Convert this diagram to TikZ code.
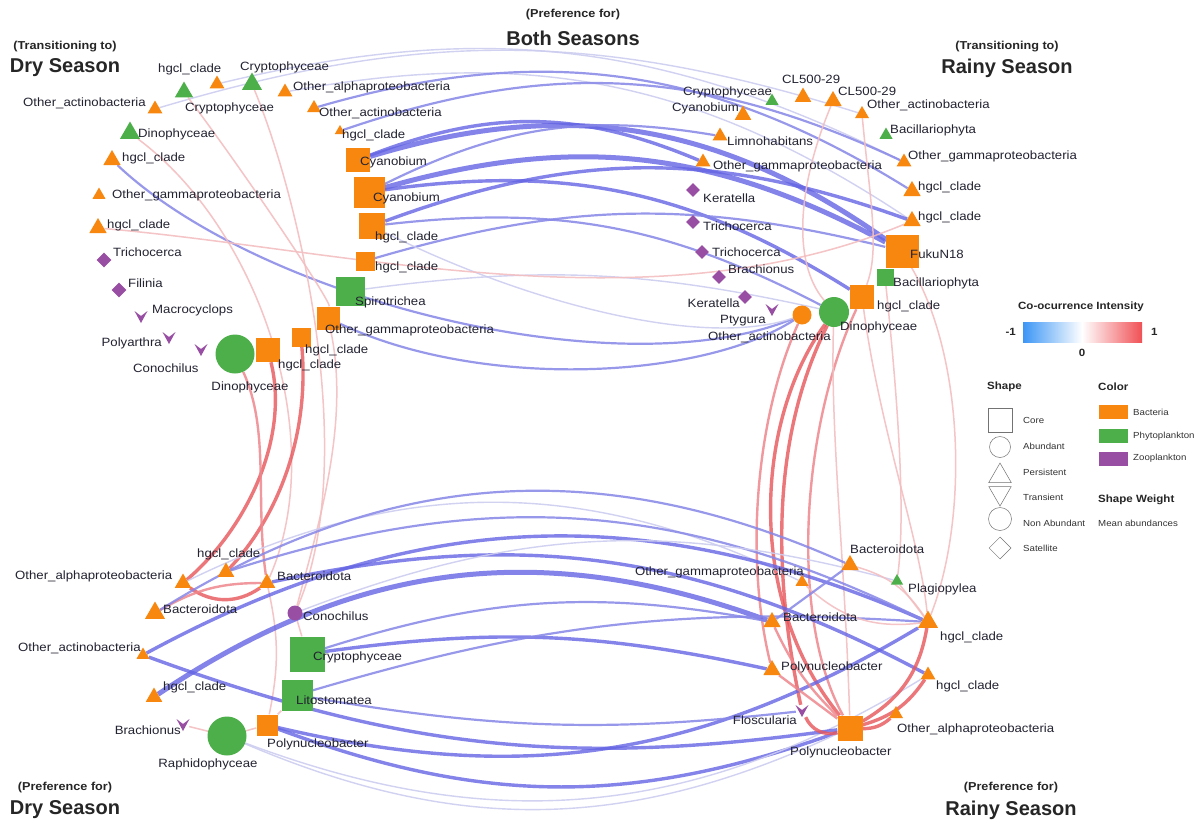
\documentclass[tikz,border=0pt]{standalone}
\usepackage{fontspec}
\setmainfont{Liberation Sans}
\newfontfamily\lblfont{Liberation Sans}[FakeStretch=1.1]
\usetikzlibrary{shapes.geometric,backgrounds}
\definecolor{bac}{HTML}{F7870F}
\definecolor{phy}{HTML}{4DAF4A}
\definecolor{zoo}{HTML}{984EA3}
\definecolor{negS}{RGB}{100,100,228}
\definecolor{negM}{RGB}{135,135,232}
\definecolor{negL}{RGB}{205,205,240}
\definecolor{posS}{RGB}{232,85,90}
\definecolor{posM}{RGB}{238,135,140}
\definecolor{posL}{RGB}{243,190,192}
\definecolor{txt}{RGB}{35,35,50}
\definecolor{legblue}{RGB}{60,150,245}
\definecolor{legred}{RGB}{240,80,85}
\tikzset{
  lbl/.style={font=\lblfont\fontsize{12}{13}\selectfont, text=txt, inner sep=0pt},
  ttl/.style={font=\fontsize{20}{22}\selectfont\bfseries, text=black!85, inner sep=0pt},
  sub/.style={font=\lblfont\fontsize{11.5}{13}\selectfont\bfseries, text=black!85, inner sep=0pt},
  legt/.style={font=\lblfont\fontsize{10.5}{12}\selectfont\bfseries, text=black!85, inner sep=0pt},
  legs/.style={font=\lblfont\fontsize{8.8}{10}\selectfont, text=black!80, inner sep=0pt},
  tri/.style={regular polygon, regular polygon sides=3, inner sep=0pt, minimum size=#1},
  sqr/.style={rectangle, inner sep=0pt, minimum size=#1},
  cir/.style={circle, inner sep=0pt, minimum size=#1},
  dia/.style={diamond, inner sep=0pt, minimum size=#1, fill=zoo},
  vnode/.style={inner sep=0pt, minimum size=12},
  B/.style={fill=bac}, G/.style={fill=phy},
  n1/.style={draw=negL, line width=1.4, opacity=0.9},
  n2/.style={draw=negM, line width=2.2, opacity=0.85},
  n3/.style={draw=negS, line width=3.4, opacity=0.8},
  n4/.style={draw=negS, line width=5, opacity=0.8},
  p1/.style={draw=posL, line width=1.5, opacity=0.9},
  p2/.style={draw=posM, line width=2.4, opacity=0.85},
  p3/.style={draw=posS, line width=3.4, opacity=0.8},
  lg/.style={draw=black!55, line width=0.5, fill=white},
}
\newcommand\vmark[3]{\node[vnode] (#1) at (#2,#3) {};
  \fill[zoo] (#2-6.5,#3-6) -- (#2,#3+6) -- (#2+6.5,#3-6) -- (#2,#3-1) -- cycle;}
\begin{document}
\begin{tikzpicture}[x=1pt,y=-1pt]
\begin{pgfonlayer}{background}
\fill[white] (0,0) rectangle (1201,830);
\end{pgfonlayer}
\useasboundingbox (0,0) rectangle (1201,830);

% ---------- titles ----------
\node[sub] (t1a) at (65,47) {(Transitioning to)};
\node[ttl] (t1b) at (65,68) {Dry Season};
\node[sub] (t2a) at (573,15) {(Preference for)};
\node[ttl] (t2b) at (573,38) {Both Seasons};
\node[sub] (t3a) at (1007,47) {(Transitioning to)};
\node[ttl] (t3b) at (1007,68) {Rainy Season};
\node[sub] (t4a) at (65,788) {(Preference for)};
\node[ttl] (t4b) at (65,810) {Dry Season};
\node[sub] (t5a) at (1011,788) {(Preference for)};
\node[ttl] (t5b) at (1011,810) {Rainy Season};

% ---------- top-left nodes ----------
\node[tri=17,B] (a1) at (155,109) {};
\node[tri=21,G] (a2) at (184,92) {};
\node[tri=17,B] (a3) at (217,84) {};
\node[tri=23,G] (a4) at (252,84) {};
\node[tri=17,B] (a5) at (285,92) {};
\node[tri=16,B] (a6) at (314,108) {};
\node[tri=12,B] (a7) at (340,131) {};
\node[tri=23,G] (a8) at (130,133) {};
\node[tri=20,B] (a9) at (112,160) {};
\node[tri=15,B] (a10) at (99,195) {};
\node[tri=20,B] (a11) at (98,228) {};
\node[dia=15] (a12) at (104,260) {};
\node[dia=15] (a13) at (119,290) {};
\vmark{a14}{141}{317}
\vmark{a15}{169}{338}
\vmark{a16}{201}{350}
\node[cir=39,G] (a17) at (235,354) {};
\node[sqr=24,B] (a18) at (268,350) {};
\node[sqr=19,B] (a19) at (301,337) {};
\node[sqr=23,B] (a20) at (328,318) {};
\node[sqr=29,G] (a21) at (350,291) {};
\node[sqr=19,B] (a22) at (365,261) {};
\node[sqr=26,B] (a23) at (372,226) {};
\node[sqr=31,B] (a24) at (369,192) {};
\node[sqr=24,B] (a25) at (358,160) {};

% ---------- top-right nodes ----------
\node[tri=15,G] (b1) at (772,101) {};
\node[tri=19,B] (b2) at (803,97) {};
\node[tri=20,B] (b3) at (833,101) {};
\node[tri=16,B] (b4) at (862,114) {};
\node[tri=19,B] (b5) at (743,115) {};
\node[tri=17,B] (b6) at (720,136) {};
\node[tri=15,G] (b7) at (886,135) {};
\node[tri=17,B] (b8) at (703,162) {};
\node[tri=17,B] (b9) at (904,162) {};
\node[dia=14] (b10) at (693,190) {};
\node[tri=20,B] (b11) at (912,191) {};
\node[dia=14] (b12) at (693,222) {};
\node[tri=20,B] (b13) at (912,221) {};
\node[dia=14] (b14) at (702,252) {};
\node[sqr=33,B] (b15) at (902,251) {};
\node[dia=14] (b16) at (719,277) {};
\node[sqr=17,G] (b17) at (885,277) {};
\node[dia=14] (b18) at (745,297) {};
\vmark{b19}{772}{310}
\node[cir=19,B] (b20) at (802,315) {};
\node[cir=30,G] (b21) at (834,312) {};
\node[sqr=24,B] (b22) at (862,297) {};

% ---------- bottom-left nodes ----------
\node[tri=19,B] (c1) at (226,572) {};
\node[tri=19,B] (c2) at (183,583) {};
\node[tri=19,B] (c3) at (267,583) {};
\node[tri=23,B] (c4) at (155,613) {};
\node[cir=15,fill=zoo] (c5) at (295,613) {};
\node[tri=15,B] (c6) at (143,655) {};
\node[sqr=35,G] (c7) at (307,654) {};
\node[tri=19,B] (c8) at (154,697) {};
\node[sqr=31,G] (c9) at (297,695) {};
\vmark{c10}{183}{725}
\node[cir=39,G] (c11) at (227,736) {};
\node[sqr=21,B] (c12) at (267,725) {};

% ---------- bottom-right nodes ----------
\node[tri=20,B] (d1) at (850,565) {};
\node[tri=15,B] (d2) at (802,582) {};
\node[tri=14,G] (d3) at (897,581) {};
\node[tri=20,B] (d4) at (772,622) {};
\node[tri=23,B] (d5) at (928,622) {};
\node[tri=20,B] (d6) at (772,670) {};
\node[tri=17,B] (d7) at (928,675) {};
\vmark{d8}{802}{711}
\node[sqr=25,B] (d9) at (850,728) {};
\node[tri=16,B] (d10) at (896,714) {};

% ---------- edges ----------
\begin{pgfonlayer}{background}
% top arcs
\draw[n1] (a5) to[bend left=22] (b13);
\draw[n1] (a3) to[bend left=20] (b9);
\draw[n1] (a1) to[bend left=17] (b4);
\draw[n2] (a6) to[bend left=24] (b11);
\draw[n2] (a7) to[bend left=22] (b9);
\draw[n4] (a25) to[bend left=26] (b15);
\draw[n3] (a25) to[bend left=22] (b8);
\draw[n4] (a24) to[bend left=22] (b15);
\draw[n3] (a24) to[bend left=20] (b22);
\draw[n2] (a24) to[bend left=18] (b6);
\draw[n3] (a23) to[bend left=20] (b13);
\draw[n2] (a23) to[bend left=17] (b21);
\draw[n2] (a22) to[bend left=15] (b15);
\draw[n1] (a21) to[bend left=10] (b21);
\draw[n2] (a20) .. controls (480,390) and (700,380) .. (b20);
\draw[n2] (a9) .. controls (260,300) and (620,390) .. (b20);
\draw[n1] (a23) .. controls (520,300) and (700,350) .. (b20);
% top pink
\draw[p1] (a11) .. controls (350,250) and (650,330) .. (b13);
\draw[p1] (b3) .. controls (800,180) and (790,260) .. (b21);
\draw[p1] (b4) .. controls (870,200) and (880,250) .. (b22);
\draw[p1] (a2) .. controls (250,180) and (330,300) .. (a20);
% left middle red arcs
\draw[p1] (a8) .. controls (260,230) and (330,440) .. (c3);
\draw[p1] (a4) .. controls (300,200) and (360,460) .. (c5);
\draw[p3] (a18) .. controls (290,440) and (245,530) .. (c2);
\draw[p3] (a19) .. controls (310,440) and (275,520) .. (c1);
\draw[p2] (a17) .. controls (270,430) and (255,500) .. (c3);
\draw[p1] (a20) .. controls (350,420) and (320,520) .. (c5);
% bottom-left internal
\draw[p3] (c2) to[bend right=35] (c3);
\draw[p2] (c4) to[bend left=15] (c3);
\draw[p1] (c3) to[bend left=12] (c12);
\draw[p1] (c5) -- (c7);
\draw[p1] (c10) -- (c11);
\draw[p1] (c11) -- (c12);
\draw[p1] (c12) -- (c9);
% right middle red arcs
\draw[p3] (b21) .. controls (755,420) and (745,600) .. (d9);
\draw[p3] (b21) .. controls (775,430) and (770,560) .. (d8);
\draw[p2] (b20) .. controls (755,420) and (745,560) .. (d6);
\draw[p2] (b22) .. controls (800,430) and (790,620) .. (d9);
\draw[p1] (b21) .. controls (830,430) and (845,560) .. (d9);
\draw[p1] (b15) .. controls (965,360) and (968,520) .. (d5);
\draw[p1] (b17) .. controls (900,420) and (905,520) .. (d3);
\draw[p1] (b22) .. controls (880,430) and (920,540) .. (d5);
% bottom arcs
\draw[n1] (c2) to[bend left=26] (d2);
\draw[n2] (c4) to[bend left=28] (d1);
\draw[n4] (c8) to[bend left=27] (d4);
\draw[n3] (c6) to[bend left=26] (d5);
\draw[n2] (c1) to[bend left=22] (d5);
\draw[n3] (c3) to[bend left=20] (d7);
\draw[n2] (c7) to[bend left=14] (d4);
\draw[n3] (c7) to[bend left=10] (d6);
\draw[n2] (c9) to[bend left=10] (d5);
\draw[n1] (c5) to[bend left=18] (d3);
\draw[n3] (c12) to[bend right=20] (d9);
\draw[n3] (c12) to[bend right=22] (d5);
\draw[n1] (c11) to[bend right=24] (d9);
\draw[n1] (c11) to[bend right=26] (d7);
\draw[n2] (c9) to[bend right=8] (d8);
\draw[n3] (c6) to[bend right=14] (d9);
% bottom-right internal
\draw[p3] (d5) to[bend left=25] (d9);
\draw[p3] (d7) to[bend left=20] (d9);
\draw[p3] (d10) to[bend left=20] (d9);
\draw[p3] (d8) to[bend right=40] (d9);
\draw[p2] (d6) -- (d9);
\draw[p2] (d4) to[bend right=10] (d9);
\draw[p1] (d1) to[bend left=20] (d5);
\draw[p1] (d3) -- (d5);
\draw[p1] (d2) to[bend right=25] (d5);
\draw[n2] (d4) -- (d1);
\end{pgfonlayer}

% ---------- labels top-left ----------
\node[lbl,anchor=west] (la2) at (158,69) {hgcl\_clade};
\node[lbl,anchor=west] (la4) at (240,67) {Cryptophyceae};
\node[lbl,anchor=west] (la1) at (23,103) {Other\_actinobacteria};
\node[lbl,anchor=west] (la2b) at (185,108) {Cryptophyceae};
\node[lbl,anchor=west] (la5) at (293,87) {Other\_alphaproteobacteria};
\node[lbl,anchor=west] (la6) at (319,113) {Other\_actinobacteria};
\node[lbl,anchor=west] (la7) at (342,135) {hgcl\_clade};
\node[lbl,anchor=west] (la8) at (138,134) {Dinophyceae};
\node[lbl,anchor=west] (la9) at (122,158) {hgcl\_clade};
\node[lbl,anchor=west] (la10) at (112,195) {Other\_gammaproteobacteria};
\node[lbl,anchor=west] (la11) at (107,225) {hgcl\_clade};
\node[lbl,anchor=west] (la12) at (113,252) {Trichocerca};
\node[lbl,anchor=west] (la13) at (128,283) {Filinia};
\node[lbl,anchor=west] (la14) at (152,310) {Macrocyclops};
\node[lbl,anchor=east] (la15) at (162,343) {Polyarthra};
\node[lbl,anchor=west] (la16) at (133,368) {Conochilus};
\node[lbl] (la17) at (250,387) {Dinophyceae};
\node[lbl,anchor=west] (la18) at (278,365) {hgcl\_clade};
\node[lbl,anchor=west] (la19) at (305,350) {hgcl\_clade};
\node[lbl,anchor=west] (la20) at (325,330) {Other\_gammaproteobacteria};
\node[lbl,anchor=west] (la21) at (355,302) {Spirotrichea};
\node[lbl,anchor=west] (la22) at (375,267) {hgcl\_clade};
\node[lbl,anchor=west] (la23) at (375,237) {hgcl\_clade};
\node[lbl,anchor=west] (la24) at (373,198) {Cyanobium};
\node[lbl,anchor=west] (la25) at (360,162) {Cyanobium};

% ---------- labels top-right ----------
\node[lbl,anchor=west] (lb1) at (683,92) {Cryptophyceae};
\node[lbl,anchor=west] (lb2) at (782,79) {CL500-29};
\node[lbl,anchor=west] (lb3) at (838,91) {CL500-29};
\node[lbl,anchor=west] (lb4) at (867,105) {Other\_actinobacteria};
\node[lbl,anchor=west] (lb5) at (672,108) {Cyanobium};
\node[lbl,anchor=west] (lb6) at (727,141) {Limnohabitans};
\node[lbl,anchor=west] (lb7) at (890,130) {Bacillariophyta};
\node[lbl,anchor=west] (lb8) at (713,166) {Other\_gammaproteobacteria};
\node[lbl,anchor=west] (lb9) at (908,156) {Other\_gammaproteobacteria};
\node[lbl,anchor=west] (lb10) at (703,198) {Keratella};
\node[lbl,anchor=west] (lb11) at (918,187) {hgcl\_clade};
\node[lbl,anchor=west] (lb12) at (703,226) {Trichocerca};
\node[lbl,anchor=west] (lb13) at (918,217) {hgcl\_clade};
\node[lbl,anchor=west] (lb14) at (712,252) {Trichocerca};
\node[lbl,anchor=west] (lb15) at (910,254) {FukuN18};
\node[lbl,anchor=west] (lb16) at (728,269) {Brachionus};
\node[lbl,anchor=west] (lb17) at (893,283) {Bacillariophyta};
\node[lbl,anchor=east] (lb18) at (740,303) {Keratella};
\node[lbl,anchor=west] (lb19) at (720,321) {Ptygura};
\node[lbl,anchor=west] (lb20) at (708,337) {Other\_actinobacteria};
\node[lbl,anchor=west] (lb21) at (840,327) {Dinophyceae};
\node[lbl,anchor=west] (lb22) at (877,306) {hgcl\_clade};

% ---------- labels bottom-left ----------
\node[lbl,anchor=west] (lc1) at (197,554) {hgcl\_clade};
\node[lbl,anchor=west] (lc2) at (15,576) {Other\_alphaproteobacteria};
\node[lbl,anchor=west] (lc3) at (277,576) {Bacteroidota};
\node[lbl,anchor=west] (lc4) at (163,609) {Bacteroidota};
\node[lbl,anchor=west] (lc5) at (303,616) {Conochilus};
\node[lbl,anchor=west] (lc6) at (18,648) {Other\_actinobacteria};
\node[lbl,anchor=west] (lc7) at (313,657) {Cryptophyceae};
\node[lbl,anchor=west] (lc8) at (163,687) {hgcl\_clade};
\node[lbl,anchor=west] (lc9) at (296,700) {Litostomatea};
\node[lbl,anchor=east] (lc10) at (181,730) {Brachionus};
\node[lbl,anchor=west] (lc12) at (267,744) {Polynucleobacter};
\node[lbl] (lc11) at (208,764) {Raphidophyceae};

% ---------- labels bottom-right ----------
\node[lbl,anchor=west] (ld1) at (850,549) {Bacteroidota};
\node[lbl,anchor=east] (ld2) at (804,572) {Other\_gammaproteobacteria};
\node[lbl,anchor=west] (ld3) at (908,589) {Plagiopylea};
\node[lbl,anchor=west] (ld4) at (783,617) {Bacteroidota};
\node[lbl,anchor=west] (ld5) at (940,637) {hgcl\_clade};
\node[lbl,anchor=west] (ld6) at (781,667) {Polynucleobacter};
\node[lbl,anchor=west] (ld7) at (936,686) {hgcl\_clade};
\node[lbl,anchor=east] (ld8) at (797,720) {Floscularia};
\node[lbl,anchor=west] (ld10) at (897,729) {Other\_alphaproteobacteria};
\node[lbl,anchor=west] (ld9) at (790,752) {Polynucleobacter};

% ---------- legend ----------
\node[legt] (lgt) at (1081,307) {Co-ocurrence Intensity};
\node[legt,anchor=east] (lgm) at (1016,332) {-1};
\shade[left color=legblue, right color=white] (1023,322) rectangle (1082,342);
\shade[left color=white, right color=legred] (1082,322) rectangle (1142,342);
\node[legt,anchor=west] (lgp) at (1151,332) {1};
\node[legt] (lgz) at (1082,353) {0};
\node[legt,anchor=west] (lgs) at (987,387) {Shape};
\node[legt,anchor=west] (lgc) at (1098,387) {Color};
\node[sqr=24,lg] (ls1) at (1000,420) {};
\node[cir=21,lg] (ls2) at (1000,447) {};
\node[tri=26,lg,fill=none] (ls3) at (1000,476) {};
\node[tri=26,lg,fill=none,shape border rotate=180] (ls4) at (1000,493) {};
\node[cir=23,lg,fill=none] (ls5) at (1000,519) {};
\node[dia=22,lg] (ls6) at (1000,548) {};
\node[legs,anchor=west] (lst1) at (1023,420) {Core};
\node[legs,anchor=west] (lst2) at (1023,446) {Abundant};
\node[legs,anchor=west] (lst3) at (1023,472) {Persistent};
\node[legs,anchor=west] (lst4) at (1023,497) {Transient};
\node[legs,anchor=west] (lst5) at (1023,523) {Non Abundant};
\node[legs,anchor=west] (lst6) at (1023,548) {Satellite};
\node[sqr=14,B,minimum width=29] (lc1s) at (1113,412) {};
\node[sqr=14,G,minimum width=29] (lc2s) at (1113,436) {};
\node[sqr=14,fill=zoo,minimum width=29] (lc3s) at (1113,459) {};
\node[legs,anchor=west] (lct1) at (1133,412) {Bacteria};
\node[legs,anchor=west] (lct2) at (1133,436) {Phytoplankton};
\node[legs,anchor=west] (lct3) at (1133,458) {Zooplankton};
\node[legt,anchor=west] (lsw) at (1098,500) {Shape Weight};
\node[legs,anchor=west] (lsw2) at (1098,523) {Mean abundances};
\end{tikzpicture}
\end{document}
